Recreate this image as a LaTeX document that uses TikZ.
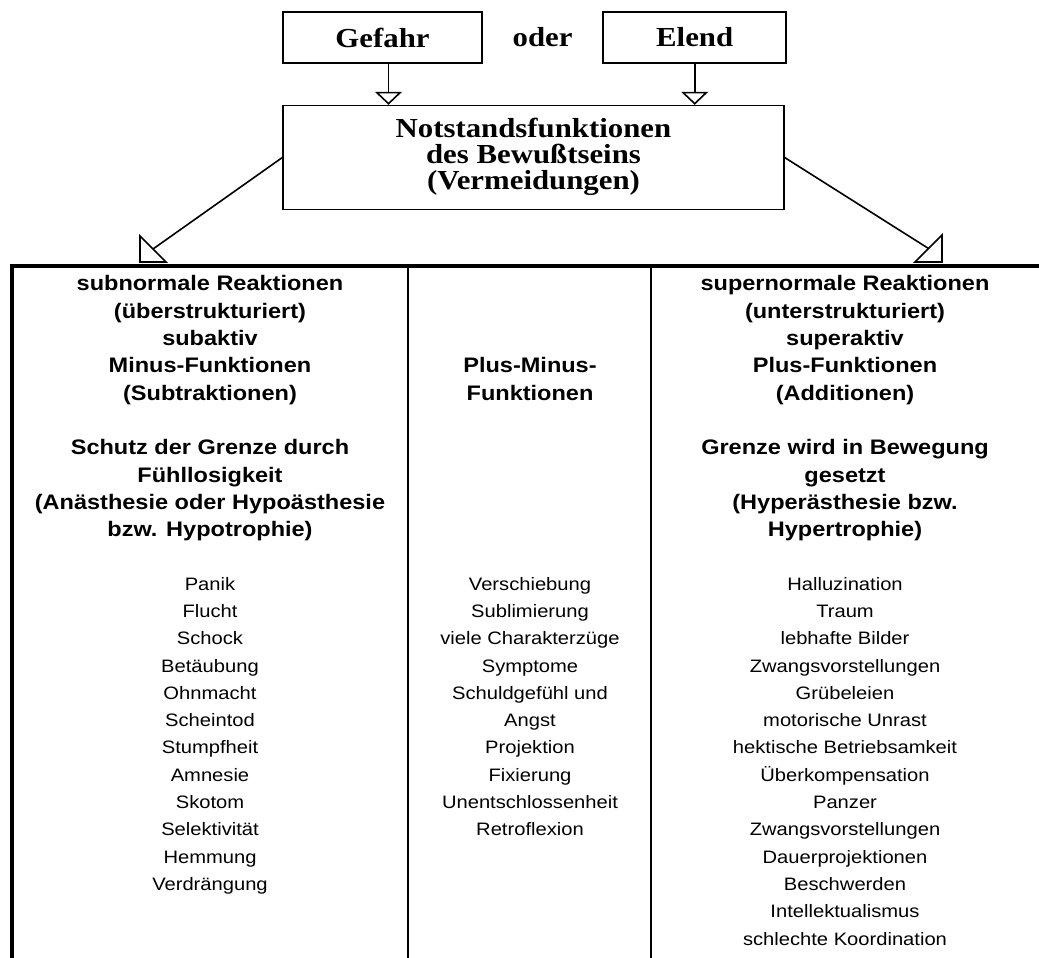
\documentclass[tikz,border=0pt]{standalone}
\usepackage{fontspec}
\setmainfont{Liberation Serif}[FakeStretch=1.12]
\setsansfont{Liberation Sans}[FakeStretch=1.12]
\usetikzlibrary{positioning,arrows.meta}
\newcommand{\leer}{\\[27.3pt]}

\begin{document}
\begin{tikzpicture}[
		x=1pt, y=-1pt,
		every node/.style={inner sep=0pt, align=center},
		kasten/.style={draw, line width=1.6pt, font=\bfseries\fontsize{27.5}{26}\selectfont},
		kopf/.style={anchor=north, font=\sffamily\bfseries\fontsize{21}{27.3}\selectfont},
		liste/.style={anchor=north, font=\sffamily\fontsize{18}{27.3}\selectfont},
		pfeil/.style={-{Triangle[open,width=27pt,length=13pt]}, line width=1.6pt},
		]
		\useasboundingbox (0,0) rectangle (1039,958);

		\node (gefahr) [kasten, minimum width=199pt, minimum height=51pt] at (382.5,37.5) {Gefahr};
		\node (oder) [kasten, draw=none, right=0pt of gefahr, minimum width=118pt] {oder};
		\node (elend) [kasten, right=0pt of oder, minimum width=183pt, minimum height=51pt] {Elend};
		\node (notstand) [kasten, below right=41pt and 0pt of gefahr.south west, minimum width=501pt, minimum height=104pt,
			inner ysep=4pt, text depth=8pt]
			{Notstandsfunktionen\\des Bewußtseins\\(Vermeidungen)};
		\draw[pfeil] ([xshift=6pt]gefahr.south) -- ([xshift=6pt]gefahr.south |- notstand.north);
		\draw[pfeil] (elend) -- (elend |- notstand.north);

		\coordinate (subspitze) at (153,249);
		\coordinate (superspitze) at (928.5,248.5);
		\draw[line width=1.6pt] (notstand.west) -- (subspitze);
		\draw[line width=1.6pt] (notstand.east) -- (superspitze);
		\draw[line width=1.6pt, fill=white] (subspitze) ++(-13,-13) -- ++(0,26) -- ++(26,0) -- cycle;
		\draw[line width=1.6pt, fill=white] (superspitze) ++(13.5,-13.5) -- ++(0,27) -- ++(-27,0) -- cycle;

		\draw[line width=4pt] (10,266) -- (1039,266);
		\draw[line width=4pt] (12,264) -- (12,958);
		\draw[line width=2pt] (408,266) -- (408,958);
		\draw[line width=2pt] (651,266) -- (651,958);

		\node (subkopf) [kopf] at (210,275.5) {subnormale Reaktionen\\(überstrukturiert)\\subaktiv\\Minus-Funktionen\\(Subtraktionen)\leer
			Schutz der Grenze durch\\Fühllosigkeit\\(Anästhesie oder Hypoästhesie\\bzw. Hypotrophie)};
		\node (pmkopf) [kopf] at (530,357.4) {Plus-Minus-\\Funktionen};
		\node (superkopf) [kopf] at (845,275.5) {supernormale Reaktionen\\(unterstrukturiert)\\superaktiv\\Plus-Funktionen\\(Additionen)\leer
			Grenze wird in Bewegung\\gesetzt\\(Hyperästhesie bzw.\\Hypertrophie)};

		\node (subliste) [liste] at (210,576.9) {Panik\\Flucht\\Schock\\Betäubung\\Ohnmacht\\Scheintod\\Stumpfheit\\Amnesie\\Skotom\\Selektivität\\Hemmung\\Verdrängung};
		\node (pmliste) [liste] at (530,576.9) {Verschiebung\\Sublimierung\\viele Charakterzüge\\Symptome\\Schuldgefühl und\\Angst\\Projektion\\Fixierung\\Unentschlossenheit\\Retroflexion};
		\node (superliste) [liste] at (845,576.9) {Halluzination\\Traum\\lebhafte Bilder\\Zwangsvorstellungen\\Grübeleien\\motorische Unrast\\hektische Betriebsamkeit\\Überkompensation\\Panzer\\Zwangsvorstellungen\\Dauerprojektionen\\Beschwerden\\Intellektualismus\\schlechte Koordination};
	\end{tikzpicture}
\end{document}
